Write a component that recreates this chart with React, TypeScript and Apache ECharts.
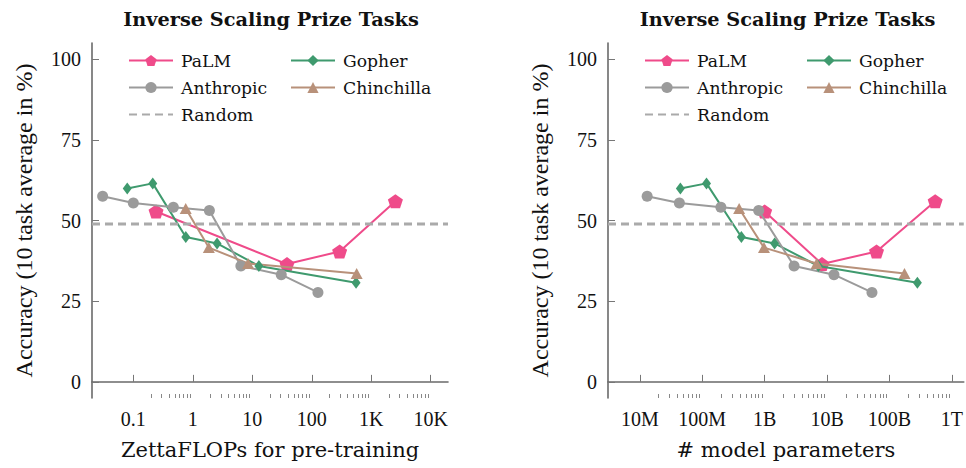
import React, { useEffect, useRef } from 'react';
import * as echarts from 'echarts';

// ---- Data ----
const seriesNames = ['PaLM', 'Gopher', 'Anthropic', 'Chinchilla', 'Random'];

// Accuracy (%) - same for both panels
const palmAcc = [52.8, 36.5, 40.4, 56.0];
const gopherAcc = [59.9, 61.5, 44.9, 42.9, 35.9, 30.7];
const anthropicAcc = [57.5, 55.4, 54.1, 53.1, 35.9, 33.2, 27.7];
const chinchillaAcc = [53.7, 41.6, 36.7, 33.6];
const randomAcc = 48.9;

// Left panel: ZettaFLOPs for pre-training
const palmFlops = [0.241, 38.3, 294, 2546];
const gopherFlops = [0.079, 0.212, 0.762, 2.56, 12.9, 555];
const anthropicFlops = [0.0305, 0.1, 0.471, 1.9, 6.43, 30.7, 127];
const chinchillaFlops = [0.76, 1.86, 8.5, 568];

// Right panel: # model parameters
const palmParams = [1e9, 8.3e9, 62e9, 540e9];
const gopherParams = [44.6e6, 117e6, 424e6, 1.44e9, 7.26e9, 280e9];
const anthropicParams = [13.1e6, 43e6, 199e6, 802e6, 2.96e9, 12.9e9, 52.4e9];
const chinchillaParams = [390e6, 975e6, 6.8e9, 174e9];

// Tick labels
const flopsTickValues = [0.1, 1, 10, 100, 1000, 10000];
const flopsTickLabels = ['0.1', '1', '10', '100', '1K', '10K'];
const paramsTickValues = [1e7, 1e8, 1e9, 1e10, 1e11, 1e12];
const paramsTickLabels = ['10M', '100M', '1B', '10B', '100B', '1T'];
const accTickValues = [0, 25, 50, 75, 100];

const flopsExtent = [0.0202, 19500];
const paramsExtent = [3.09e6, 1.55e12];
const accExtent = [-5, 105];

const titleText = 'Inverse Scaling Prize Tasks';
const yName = 'Accuracy (10 task average in %)';
const xNames = ['ZettaFLOPs for pre-training', '# model parameters'];

// ---- Styling ----
const COLORS: Record<string, string> = {
  PaLM: '#EF4B8A',
  Gopher: '#3F9A6E',
  Anthropic: '#9B9B9B',
  Chinchilla: '#B8917A',
  Random: '#AAAAAA',
};
const PENTAGON = 'path://M0,-1L0.951,-0.309L0.588,0.809L-0.588,0.809L-0.951,-0.309Z';
const FONT_CM = '"Liberation Serif", serif';
const FONT_PAL = '"DejaVu Serif", serif';
const AXIS_COLOR = '#6a6a6a';

function minorTicks(majors: number[]) {
  const out: number[] = [];
  for (let i = 0; i < majors.length - 1; i++) {
    for (let k = 2; k <= 9; k++) out.push(majors[i] * k);
  }
  return out;
}

function labelFor(values: number[], labels: string[]) {
  return (v: number) => {
    const e = Math.log10(v);
    for (let i = 0; i < values.length; i++) {
      if (Math.abs(Math.log10(values[i]) - e) < 0.01) return labels[i];
    }
    return '';
  };
}

function zip(xs: number[], ys: number[]) {
  return xs.map((x, i) => [x, ys[i]]);
}

export default function App() {
  const ref = useRef<HTMLDivElement>(null);

  useEffect(() => {
    if (!ref.current) return;
    const chart = echarts.init(ref.current, undefined, { renderer: 'svg' });

    const grids = [
      { left: 92, top: 43, width: 356, height: 355 },
      { left: 608, top: 43, width: 357, height: 355 },
    ];
    const extents = [flopsExtent, paramsExtent];
    const tickVals = [flopsTickValues, paramsTickValues];
    const tickLabs = [flopsTickLabels, paramsTickLabels];
    const xData = [
      [palmFlops, gopherFlops, anthropicFlops, chinchillaFlops],
      [palmParams, gopherParams, anthropicParams, chinchillaParams],
    ];
    const accs = [palmAcc, gopherAcc, anthropicAcc, chinchillaAcc];
    const symbols = [PENTAGON, 'diamond', 'circle', 'triangle'];
    const symbolSizes: any[] = [[15, 14], [9, 12], 11, [12, 11]];

    const xAxis: any[] = [];
    const yAxis: any[] = [];
    const series: any[] = [];
    const title: any[] = [];
    const legend: any[] = [];

    for (let p = 0; p < 2; p++) {
      const ext = extents[p];
      xAxis.push({
        type: 'log',
        logBase: 10,
        gridIndex: p,
        min: ext[0],
        max: ext[1],
        position: 'bottom',
        name: xNames[p],
        nameLocation: 'middle',
        nameGap: 41,
        nameTextStyle: { fontFamily: FONT_PAL, fontSize: 21, color: '#111' },
        axisLine: { show: true, lineStyle: { color: AXIS_COLOR, width: 1.6 } },
        axisTick: {
          show: true,
          inside: true,
          length: 7,
          customValues: tickVals[p],
          lineStyle: { color: '#777', width: 1 },
        },
        axisLabel: {
          show: true,
          customValues: tickVals[p],
          formatter: labelFor(tickVals[p], tickLabs[p]),
          fontFamily: FONT_CM,
          fontSize: 20,
          color: '#111',
          margin: 11,
        },
        splitLine: { show: false },
        minorTick: { show: false },
      });
      xAxis.push({
        type: 'log',
        logBase: 10,
        gridIndex: p,
        min: ext[0],
        max: ext[1],
        position: 'bottom',
        axisLine: { show: false },
        axisTick: {
          show: true,
          inside: true,
          length: 4,
          customValues: minorTicks(tickVals[p]),
          lineStyle: { color: '#888', width: 1 },
        },
        axisLabel: { show: false },
        splitLine: { show: false },
      });
      yAxis.push({
        type: 'value',
        gridIndex: p,
        min: accExtent[0],
        max: accExtent[1],
        name: yName,
        nameLocation: 'middle',
        nameGap: 56,
        nameTextStyle: { fontFamily: FONT_CM, fontSize: 24, color: '#111' },
        axisLine: { show: true, lineStyle: { color: AXIS_COLOR, width: 1.6 } },
        axisTick: {
          show: true,
          inside: true,
          length: 7,
          customValues: accTickValues,
          lineStyle: { color: '#777', width: 1 },
        },
        axisLabel: {
          show: true,
          customValues: accTickValues,
          fontFamily: FONT_CM,
          fontSize: 20,
          color: '#111',
          margin: 11,
        },
        splitLine: { show: false },
      });

      for (let s = 0; s < 4; s++) {
        const name = seriesNames[s];
        series.push({
          type: 'line',
          name,
          xAxisIndex: p * 2,
          yAxisIndex: p,
          data: zip(xData[p][s], accs[s]),
          symbol: symbols[s],
          symbolSize: symbolSizes[s],
          showSymbol: true,
          lineStyle: { color: COLORS[name], width: 2 },
          itemStyle: { color: COLORS[name] },
          z: s === 0 ? 2 : 3,
        });
      }
      series.push({
        type: 'line',
        name: 'Random',
        xAxisIndex: p * 2,
        yAxisIndex: p,
        data: [[ext[0], randomAcc], [ext[1], randomAcc]],
        symbol: 'none',
        lineStyle: { color: COLORS.Random, width: 3, type: [8, 5] },
        itemStyle: { color: COLORS.Random },
        z: 4,
        silent: true,
      });

      const cx = grids[p].left + grids[p].width / 2;
      title.push({
        text: titleText,
        left: cx - 4,
        top: 5,
        textAlign: 'center',
        textStyle: { fontFamily: FONT_PAL, fontSize: 19.3, fontWeight: 'bold', color: '#111' },
      });
      const legendCommon = {
        orient: 'vertical',
        top: 52,
        itemWidth: 44,
        itemHeight: 14,
        itemGap: 10,
        padding: 0,
        selectedMode: false,
        textStyle: { fontFamily: FONT_PAL, fontSize: 17.2, color: '#111', padding: [0, 0, 0, 3] },
      };
      legend.push({
        ...legendCommon,
        left: grids[p].left + 36,
        data: ['PaLM', 'Anthropic', { name: 'Random', itemStyle: { opacity: 0 } }],
      });
      legend.push({ ...legendCommon, left: grids[p].left + 198, data: ['Gopher', 'Chinchilla'] });
    }

    chart.setOption({
      animation: false,
      backgroundColor: '#ffffff',
      title,
      legend,
      grid: grids.map((g) => ({ ...g, containLabel: false })),
      xAxis,
      yAxis,
      series,
    });

    return () => chart.dispose();
  }, []);

  return (
    <div
      ref={ref}
      style={{ position: 'absolute', left: 0, top: 0, width: 966, height: 468 }}
    />
  );
}
